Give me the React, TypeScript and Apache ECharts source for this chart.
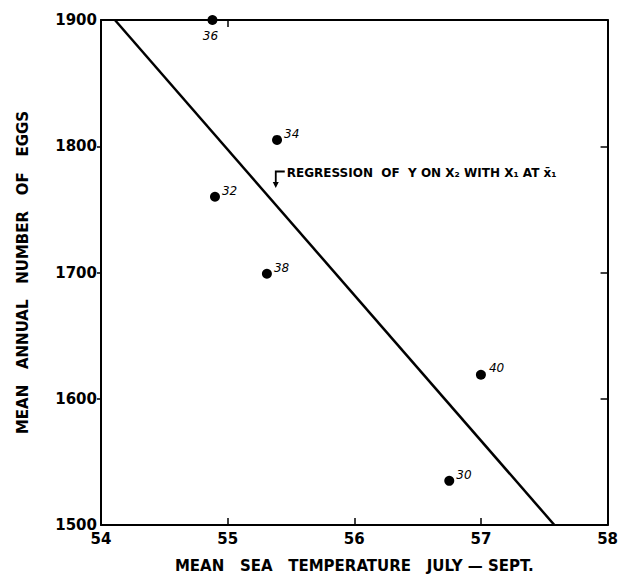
import React, { useEffect, useRef } from "react";
import * as echarts from "echarts";

const yearLabels = ["36", "34", "32", "38", "40", "30"];
const seaTemp = [54.88, 55.39, 54.9, 55.31, 57.0, 56.75];
const eggCount = [1900, 1805, 1760, 1699, 1619, 1535];
const regressionTemp = [54.11, 57.58];
const regressionEggs = [1900, 1500];
const xTicks = [54, 55, 56, 57, 58];
const yTicks = [1500, 1600, 1700, 1800, 1900];
const arrowTip = [55.38, 1767];
const arrowCorner = [55.38, 1780];

const labelPos: Record<string, { position: any; offset: number[] }> = {
  "36": { position: "bottom", offset: [-2, 0] },
  "34": { position: "right", offset: [-3, -6] },
  "32": { position: "right", offset: [-3, -6] },
  "38": { position: "right", offset: [-3, -6] },
  "40": { position: "right", offset: [-2, -7] },
  "30": { position: "right", offset: [-3, -6] },
};

export default function App() {
  const ref = useRef<HTMLDivElement>(null);
  useEffect(() => {
    if (!ref.current) return;
    const chart = echarts.init(ref.current, null, { renderer: "svg" });
    const font = "DejaVu Sans";
    const points = seaTemp.map((x, i) => ({
      value: [x, eggCount[i]],
      name: yearLabels[i],
      label: {
        show: true,
        formatter: yearLabels[i],
        position: labelPos[yearLabels[i]].position,
        offset: labelPos[yearLabels[i]].offset,
        fontStyle: "italic",
        fontFamily: "DejaVu Sans",
        fontSize: 12,
        color: "#000",
      },
    }));
    chart.setOption({
      animation: false,
      backgroundColor: "#fff",
      grid: { left: 101, right: 11, top: 20, bottom: 54 },
      xAxis: [
        {
          type: "value",
          min: 54,
          max: 58,
          interval: 1,
          position: "bottom",
          axisLine: { show: true, lineStyle: { color: "#000", width: 2 } },
          axisTick: { show: true, inside: true, length: 7, lineStyle: { color: "#000", width: 1.5 }, customValues: xTicks.slice(1, 4) },
          axisLabel: { color: "#000", fontFamily: font, fontWeight: "bold", fontSize: 15, margin: 6, customValues: xTicks, formatter: (v: number) => String(v) },
          splitLine: { show: false },
          name: "MEAN   SEA   TEMPERATURE   JULY — SEPT.",
          nameLocation: "middle",
          nameGap: 33,
          nameTextStyle: { color: "#000", fontFamily: font, fontWeight: "bold", fontSize: 15 },
        },
        {
          type: "value",
          min: 54,
          max: 58,
          interval: 1,
          position: "top",
          axisLine: { show: true, lineStyle: { color: "#000", width: 2 } },
          axisTick: { show: true, inside: true, length: 7, lineStyle: { color: "#000", width: 1.5 }, customValues: [55] },
          axisLabel: { show: false },
          splitLine: { show: false },
        },
      ],
      yAxis: [
        {
          type: "value",
          min: 1500,
          max: 1900,
          interval: 100,
          position: "left",
          axisLine: { show: true, lineStyle: { color: "#000", width: 2 } },
          axisTick: { show: true, inside: false, length: 4, lineStyle: { color: "#000", width: 1.5 }, customValues: yTicks.slice(1, 4) },
          axisLabel: { color: "#000", fontFamily: font, fontWeight: "bold", fontSize: 15, margin: 4, customValues: yTicks, formatter: (v: number) => String(v) },
          splitLine: { show: false },
          name: "MEAN   ANNUAL   NUMBER   OF   EGGS",
          nameLocation: "middle",
          nameRotate: 90,
          nameGap: 71,
          nameTextStyle: { color: "#000", fontFamily: font, fontWeight: "bold", fontSize: 15 },
        },
        {
          type: "value",
          min: 1500,
          max: 1900,
          interval: 100,
          position: "right",
          axisLine: { show: true, lineStyle: { color: "#000", width: 2 } },
          axisTick: { show: true, inside: true, length: 7, lineStyle: { color: "#000", width: 1.5 }, customValues: yTicks.slice(1, 4) },
          axisLabel: { show: false },
          splitLine: { show: false },
        },
      ],
      series: [
        {
          type: "line",
          data: regressionTemp.map((x, i) => [x, regressionEggs[i]]),
          showSymbol: false,
          lineStyle: { color: "#000", width: 2.5 },
          silent: true,
          z: 2,
        },
        {
          type: "scatter",
          data: points,
          symbolSize: 10,
          itemStyle: { color: "#000", opacity: 1 },
          z: 3,
        },
      ],
    });
    const tip = chart.convertToPixel({ gridIndex: 0 }, arrowTip) as number[];
    const corner = chart.convertToPixel({ gridIndex: 0 }, arrowCorner) as number[];
    chart.setOption({
      graphic: [
        {
          type: "polyline",
          shape: { points: [[corner[0] + 9, corner[1]], [corner[0], corner[1]], [corner[0], tip[1] - 5]] },
          style: { stroke: "#000", lineWidth: 1.8, fill: null },
        },
        {
          type: "polygon",
          shape: { points: [[corner[0] - 3, tip[1] - 6], [corner[0] + 3, tip[1] - 6], [corner[0], tip[1]]] },
          style: { fill: "#000" },
        },
        {
          type: "text",
          x: corner[0] + 11,
          y: corner[1] + 1,
          style: {
            text: "REGRESSION  OF  Y ON X₂ WITH X₁ AT x̄₁",
            fontFamily: font,
            fontWeight: "bold",
            fontSize: 12,
            fill: "#000",
            verticalAlign: "middle",
            align: "left",
          },
        },
      ],
    });
    return () => chart.dispose();
  }, []);
  return <div ref={ref} style={{ width: 621, height: 579, position: "absolute", left: 0, top: 0 }} />;
}
